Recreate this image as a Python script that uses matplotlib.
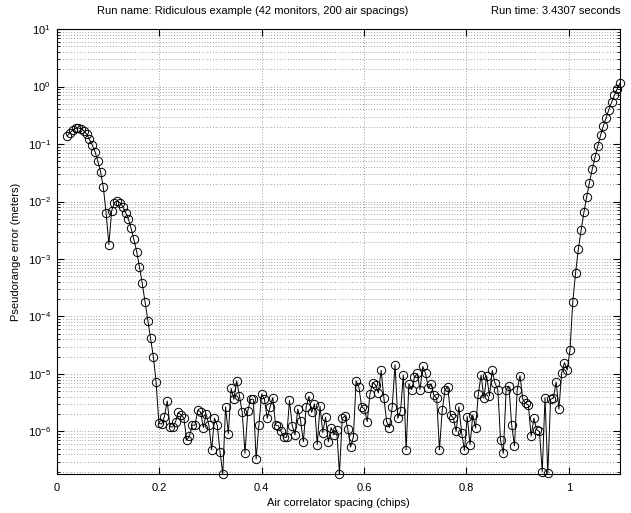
import numpy as np
import matplotlib
matplotlib.use('Agg')
import matplotlib.pyplot as plt
from matplotlib.ticker import FixedLocator, NullFormatter

plt.rcParams['font.family'] = ['Liberation Sans', 'DejaVu Sans']
plt.rcParams['mathtext.fontset'] = 'custom'
plt.rcParams['mathtext.rm'] = 'Liberation Sans'

# air correlator spacings (chips), 200 of them
spacing_start, spacing_stop, n_spacings = 0.02, 1.1, 200

# pseudorange error (meters)
# main peak + secondary bump + fall-off
peak_err = [0.138, 0.158, 0.175, 0.187, 0.191, 0.182, 0.171, 0.149, 0.120, 0.0962,
            0.0741, 0.0506, 0.0331, 0.0176, 0.00631, 0.00178, 0.00692, 0.00955, 0.0103, 0.00955,
            0.00813, 0.00638, 0.00501, 0.00342, 0.00219, 0.00134, 7.35e-4, 3.80e-4, 1.82e-4, 8.51e-5,
            4.17e-5, 2.00e-5, 7.24e-6, 1.38e-6]
# noise floor
floor_err = [1.35e-6, 1.82e-6, 3.39e-6, 1.20e-6, 1.20e-6, 1.48e-6, 2.14e-6, 1.95e-6, 1.70e-6, 7.08e-7,
             8.32e-7, 1.29e-6, 1.29e-6, 2.34e-6, 2.19e-6, 1.17e-6, 2.00e-6, 1.29e-6, 4.79e-7, 1.70e-6,
             1.29e-6, 4.47e-7, 1.82e-7, 2.69e-6, 9.12e-7, 5.62e-6, 3.63e-6, 7.59e-6, 4.17e-6, 2.14e-6,
             4.17e-7, 2.29e-6, 3.63e-6, 3.63e-6, 3.31e-7, 1.29e-6, 4.47e-6, 3.63e-6, 1.70e-6, 2.63e-6,
             3.89e-6, 1.29e-6, 1.26e-6, 1.00e-6, 7.94e-7, 7.94e-7, 3.47e-6, 1.26e-6, 8.71e-7, 2.45e-6,
             1.55e-6, 6.61e-7, 2.63e-6, 4.07e-6, 2.14e-6, 3.02e-6, 5.89e-7, 2.75e-6, 9.55e-7, 1.78e-6,
             6.61e-7, 1.17e-6, 8.71e-7, 1.07e-6, 1.82e-7, 1.70e-6, 1.86e-6, 1.10e-6, 5.37e-7, 7.94e-7,
             7.59e-6, 5.89e-6, 2.69e-6, 2.45e-6, 1.48e-6, 4.57e-6, 7.08e-6, 6.46e-6, 4.68e-6, 1.15e-5,
             3.80e-6, 1.48e-6, 1.17e-6, 2.69e-6, 1.45e-5, 1.70e-6, 2.29e-6, 9.55e-6, 4.79e-7, 6.76e-6,
             5.37e-6, 8.71e-6, 1.02e-5, 5.37e-6, 1.35e-5, 1.02e-5, 5.62e-6, 6.76e-6, 4.27e-6, 3.80e-6,
             4.79e-7, 2.34e-6, 5.25e-6, 6.03e-6, 1.95e-6, 1.70e-6, 1.00e-6, 2.69e-6, 9.33e-7, 4.68e-7,
             1.82e-6, 5.89e-7, 1.95e-6, 1.15e-6, 4.57e-6, 9.55e-6, 3.80e-6, 9.33e-6, 4.17e-6, 1.15e-5,
             6.92e-6, 5.37e-6, 7.08e-7, 4.17e-7, 5.37e-6, 6.17e-6, 1.29e-6, 5.62e-7, 5.37e-6, 9.33e-6,
             3.63e-6, 3.09e-6, 2.88e-6, 8.32e-7, 1.70e-6, 1.07e-6, 1.00e-6, 2.00e-7, 3.89e-6, 1.86e-7,
             3.63e-6, 3.80e-6, 7.24e-6, 2.45e-6, 1.05e-5, 1.58e-5, 1.17e-5, 2.63e-5]
# final rise
rise_err = [1.82e-4, 5.75e-4, 1.48e-3, 3.16e-3, 6.46e-3, 0.0120, 0.0214, 0.0363, 0.0589, 0.0923,
            0.142, 0.206, 0.288, 0.398, 0.537, 0.708, 0.912, 1.15]

x_ticks = [0, 0.2, 0.4, 0.6, 0.8, 1]
x_ticklabels = ['0', '0.2', '0.4', '0.6', '0.8', '1']
y_decades = [-6, -5, -4, -3, -2, -1, 0, 1]

err = np.array(peak_err + floor_err + rise_err)
spacing = np.linspace(spacing_start, spacing_stop, n_spacings)

fig = plt.figure(figsize=(6.31, 5.13), dpi=100)
ax = fig.add_axes([0.0903, 0.076, 0.8923, 0.8674])

ax.semilogy(spacing, err, '-o', color='k', lw=0.7, markersize=6,
            markerfacecolor='none', markeredgewidth=0.7, clip_on=False, zorder=3)

ax.set_xlim(0, 1.1)
ax.set_ylim(err.min(), 10)
ax.set_xticks(x_ticks)
ax.set_xticklabels(x_ticklabels)

major = [10.0 ** d for d in y_decades]
minor = [m * 10.0 ** d for d in [-7] + y_decades[:-1] for m in range(2, 10)]
minor = [v for v in minor if err.min() <= v <= 10]
ax.yaxis.set_major_locator(FixedLocator(major))
ax.set_yticklabels([r'$\mathdefault{10^{%d}}$' % d for d in y_decades])
ax.yaxis.set_minor_locator(FixedLocator(minor))
ax.yaxis.set_minor_formatter(NullFormatter())

# matlab-ish sparse dotted grid
grid_style = dict(linestyle=(0, (1, 3)), color='0.3', lw=0.5)
ax.grid(True, which='major', axis='both', **grid_style)
ax.grid(True, which='minor', axis='y', **grid_style)
ax.set_axisbelow(True)

ax.tick_params(which='both', direction='in', top=True, right=True, labelsize=8)
ax.tick_params(which='major', length=5)
ax.tick_params(which='minor', length=2.5)
ax.tick_params(axis='x', pad=6.5)
ax.tick_params(axis='y', pad=4.5)
for s in ax.spines.values():
    s.set_linewidth(0.8)

ax.set_xlabel('Air correlator spacing (chips)', fontsize=8, labelpad=3.5)
ax.set_ylabel('Pseudorange error (meters)', fontsize=8, labelpad=5)

ax.text(0.071, 1.03, 'Run name: Ridiculous example (42 monitors, 200 air spacings)',
        transform=ax.transAxes, ha='left', va='bottom', fontsize=8)
ax.text(1.0, 1.03, 'Run time: 3.4307 seconds',
        transform=ax.transAxes, ha='right', va='bottom', fontsize=8)

plt.savefig('out.png', dpi=100)
